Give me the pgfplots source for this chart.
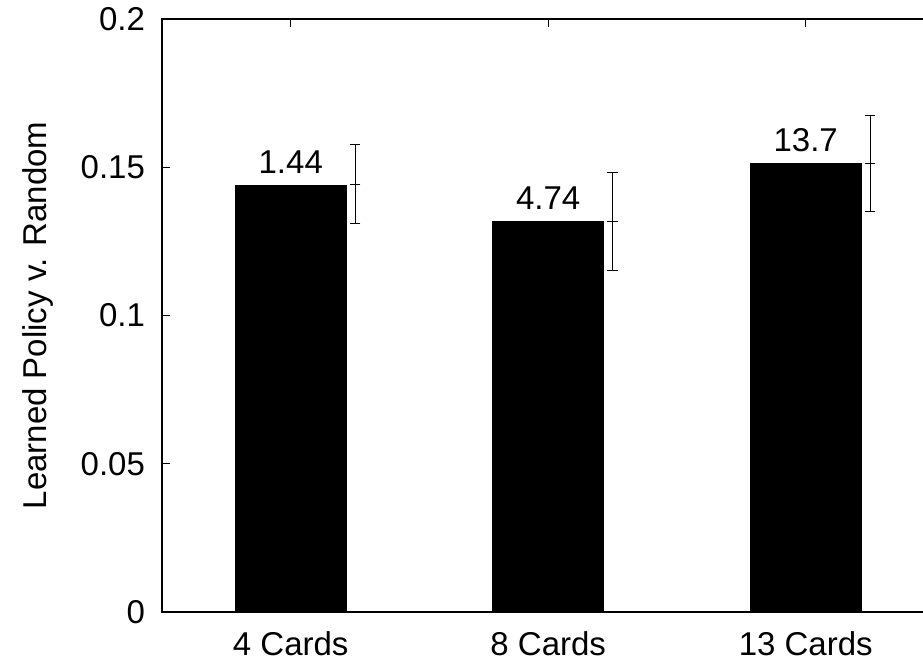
\documentclass[border=0pt]{standalone}
\usepackage{fontspec}
\setmainfont{Liberation Sans}
\usepackage{pgfplots}
\pgfplotsset{compat=1.18}
\begin{document}
\begin{tikzpicture}
\begin{axis}[
  scale only axis,
  width=386.25pt, height=296.5pt,
  xmin=0.5, xmax=3.5, ymin=0, ymax=0.2,
  xtick={1,2,3}, xticklabels={4 Cards, 8 Cards, 13 Cards},
  ytick={0,0.05,0.1,0.15,0.2},
  yticklabels={0,0.05,0.1,0.15,0.2},
  tick align=inside, major tick length=4pt,
  axis line style={line width=0.6pt},
  tick style={line width=0.5pt, black},
  font=\fontsize{16.5}{19}\selectfont,
  tick label style={font=\fontsize{16.5}{19}\selectfont},
  xticklabel style={yshift=-6.5pt},
  yticklabel style={xshift=-5pt},
  ylabel={Learned Policy v. Random},
  ylabel style={font=\fontsize{16.5}{19}\selectfont, at={(axis description cs:-0.16,0.5)}, anchor=center},
  clip=false,
]
\addplot[ybar, bar width=55.5pt, fill=black, draw=black,
  nodes near coords, point meta=explicit symbolic,
  every node near coord/.append style={anchor=base, inner sep=0pt, yshift=6pt, font=\fontsize{16.5}{19}\selectfont, black}]
  coordinates {(1,0.144) [1.44] (2,0.1318) [4.74] (3,0.1512) [13.7]};
\addplot[black, only marks, mark=-, mark size=2.6pt, mark options={line width=0.5pt},
  error bars/.cd, y dir=both, y explicit,
  error bar style={line width=0.5pt, black},
  error mark options={rotate=90, mark size=2.6pt, line width=0.5pt}]
  coordinates {(1.25,0.1443) +- (0,0.0133) (2.25,0.1318) +- (0,0.0165) (3.25,0.1513) +- (0,0.0162)};
\end{axis}
\pgfresetboundingbox
\useasboundingbox (-81pt,-24.5pt) rectangle (380.5pt,306pt);
\end{tikzpicture}
\end{document}
